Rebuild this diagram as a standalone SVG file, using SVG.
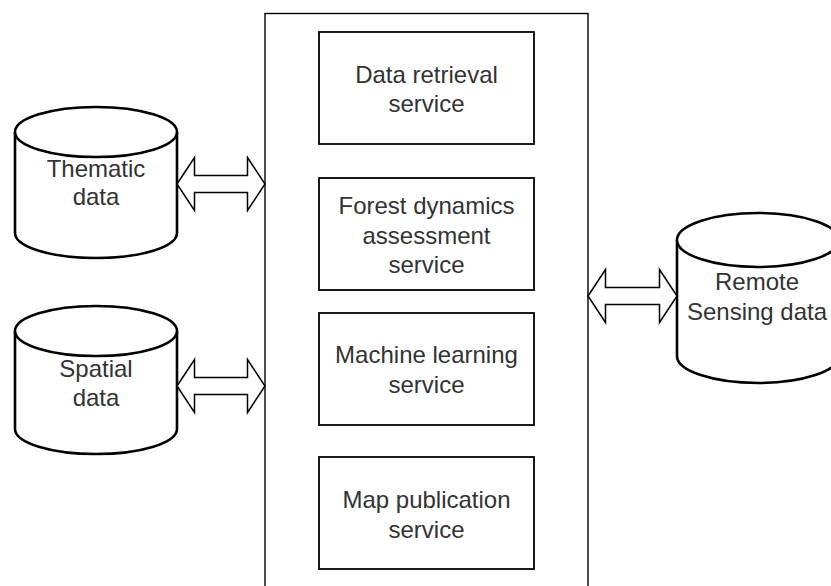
<svg xmlns="http://www.w3.org/2000/svg" width="831" height="586" viewBox="0 0 831 586">
<style>
.cyl{fill:#fff;stroke:#000;stroke-width:2.6}
.box{fill:#fff;stroke:#000;stroke-width:1.8}
.cont{fill:#fff;stroke:#000;stroke-width:1.4}
.arr{fill:#fff;stroke:#000;stroke-width:1.5;stroke-linejoin:miter}
text{font-family:"Liberation Sans",Arial,sans-serif;font-size:24px;fill:#333;text-anchor:middle}
</style>
<rect width="831" height="586" fill="#fff"/>
<g id="container">
<rect class="cont" x="265" y="13.5" width="323" height="600"/>
</g>
<g id="data-retrieval">
<rect class="box" x="319" y="32" width="215" height="112"/>
<text x="426.5" y="83">Data retrieval</text>
<text x="426.5" y="112">service</text>
</g>
<g id="forest-dynamics">
<rect class="box" x="319" y="178" width="215" height="112"/>
<text x="426.5" y="214">Forest dynamics</text>
<text x="426.5" y="244">assessment</text>
<text x="426.5" y="273">service</text>
</g>
<g id="machine-learning">
<rect class="box" x="319" y="313" width="215" height="112"/>
<text x="426.5" y="363">Machine learning</text>
<text x="426.5" y="393">service</text>
</g>
<g id="map-publication">
<rect class="box" x="319" y="457" width="215" height="112"/>
<text x="426.5" y="508">Map publication</text>
<text x="426.5" y="538">service</text>
</g>
<g id="thematic-data">
<path class="cyl" d="M15,132 L15,233 A81,25 0 0 0 177,233 L177,132"/>
<ellipse class="cyl" cx="96" cy="132" rx="81" ry="25"/>
<text x="96" y="177">Thematic</text>
<text x="96" y="205">data</text>
</g>
<g id="spatial-data">
<path class="cyl" d="M15,331 L15,429 A81,25 0 0 0 177,429 L177,331"/>
<ellipse class="cyl" cx="96" cy="331" rx="81" ry="25"/>
<text x="96" y="377">Spatial</text>
<text x="96" y="406">data</text>
</g>
<g id="remote-sensing-data">
<path class="cyl" d="M677,240 L677,356 A81,27 0 0 0 839,356 L839,240"/>
<ellipse class="cyl" cx="758" cy="240" rx="81" ry="27"/>
<text x="757" y="290">Remote</text>
<text x="757" y="320">Sensing data</text>
</g>
<g id="connectors">
<polygon class="arr" points="177,184 194.5,157.5 194.5,175.5 247.5,175.5 247.5,157.5 265,184 247.5,210.5 247.5,192.5 194.5,192.5 194.5,210.5"/>
<polygon class="arr" points="177,386 194.5,359.5 194.5,377.5 247.5,377.5 247.5,359.5 265,386 247.5,412.5 247.5,394.5 194.5,394.5 194.5,412.5"/>
<polygon class="arr" points="588,296 605.5,269.5 605.5,287.5 659.5,287.5 659.5,269.5 677,296 659.5,322.5 659.5,304.5 605.5,304.5 605.5,322.5"/>
</g>
</svg>
